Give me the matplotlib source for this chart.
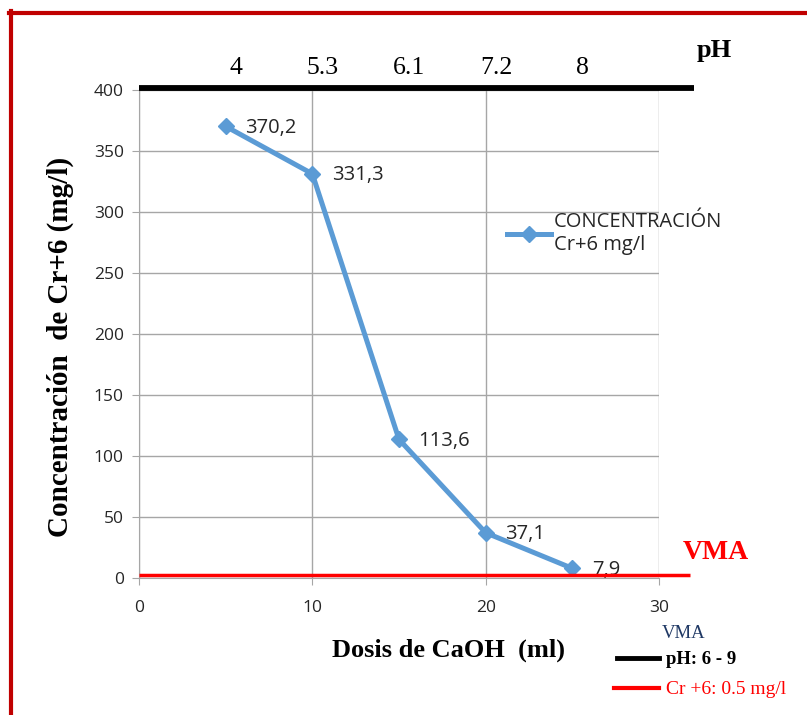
import matplotlib
matplotlib.use("Agg")
import matplotlib.pyplot as plt
from matplotlib.lines import Line2D

dosis = [5, 10, 15, 20, 25]
conc = [370.2, 331.3, 113.6, 37.1, 7.9]
labels = ["370,2", "331,3", "113,6", "37,1", "7,9"]
ph_labels = ["4", "5.3", "6.1", "7.2", "8"]
vma_cr = 2.5
ph_bar_y = 402

W, H = 807, 715
fig = plt.figure(figsize=(W / 100, H / 100), dpi=100)
ax = fig.add_axes([139 / W, 1 - 578 / H, (659 - 139) / W, (578 - 90) / H])

blue = "#5B9BD5"
grid_c = "#A6A6A6"
sans = "Open Sans"
serif = "Liberation Serif"

ax.set_xlim(0, 30)
ax.set_ylim(0, 400)
ax.set_xticks([0, 10, 20, 30])
ax.set_yticks(range(0, 401, 50))
ax.grid(True, color=grid_c, linewidth=1)
ax.set_axisbelow(True)
for s in ["top", "right"]:
    ax.spines[s].set_visible(False)
for s in ["left", "bottom"]:
    ax.spines[s].set_color(grid_c)
ax.tick_params(colors=grid_c, length=5, labelcolor="#262626", labelsize=12.5, pad=6)
for t in ax.get_xticklabels() + ax.get_yticklabels():
    t.set_fontfamily(sans)
ax.tick_params(axis="x", pad=11)

line, = ax.plot(dosis, conc, color=blue, linewidth=3.6, marker="D", markersize=8,
                label="CONCENTRACIÓN\nCr+6 mg/l", zorder=5)
for x, y, lab in zip(dosis, conc, labels):
    ax.annotate(lab, (x, y), xytext=(14, -1), textcoords="offset points",
                fontsize=14.5, family=sans, color="#262626", va="center", ha="left")

# pH bar and VMA red line
ax.plot([0, 32], [ph_bar_y, ph_bar_y], color="black", linewidth=4.2, clip_on=False, zorder=6,
        solid_capstyle="butt")
ax.plot([0, 31.8], [vma_cr, vma_cr], color="#FF0000", linewidth=2.5, clip_on=False, zorder=6,
        solid_capstyle="butt")

for x, lab in zip(dosis, ph_labels):
    ax.text(x + 0.6, 409, lab, fontsize=18.5, family=serif, ha="center", va="bottom")
ax.text(33.2, 423, "pH", fontsize=19, family=serif, fontweight="bold", ha="center", va="bottom")
ax.text(33.3, 21, "VMA", fontsize=20, family=serif, fontweight="bold", color="#FF0000",
        ha="center", va="center")

leg = ax.legend(handles=[line], loc="upper left", bbox_to_anchor=(0.692, 0.767), frameon=False,
                prop={"family": sans, "size": 14.5}, handlelength=2.2, handletextpad=0.15,
                borderaxespad=0, labelspacing=0.2)
for t in leg.get_texts():
    t.set_color("#262626")

ax.set_ylabel("Concentración  de Cr+6 (mg/l)", fontsize=21, family=serif, fontweight="bold",
              va="center")
ax.yaxis.set_label_coords((60 - 139) / 520, 1 - (347 - 90) / 488)
ax.set_xlabel("Dosis de CaOH  (ml)", fontsize=19, family=serif, fontweight="bold", va="center")
ax.xaxis.set_label_coords((448 - 139) / 520, -(650 - 578) / 488)

# bottom-right VMA legend
fig.text(684 / W, 1 - 633 / H, "VMA", fontsize=13.5, family=serif, color="#1F3864", ha="center", va="center")
fig.add_artist(Line2D([617 / W, 659 / W], [1 - 658 / H] * 2, color="black", linewidth=3.5))
fig.text(666 / W, 1 - 659 / H, "pH: 6 - 9", fontsize=13.5, family=serif, fontweight="bold",
         ha="left", va="center")
fig.add_artist(Line2D([614 / W, 659 / W], [1 - 688 / H] * 2, color="#FF0000", linewidth=3))
fig.text(666 / W, 1 - 689 / H, "Cr +6: 0.5 mg/l", fontsize=14, family=serif, color="#FF0000",
         ha="left", va="center")

# red frame
fig.add_artist(Line2D([10.5 / W, 10.5 / W], [0, 1 - 11 / H], color="#C00000", linewidth=3))
fig.add_artist(Line2D([9 / W, 1], [1 - 12.5 / H] * 2, color="#C00000", linewidth=3))

fig.savefig("out.png", dpi=100)
